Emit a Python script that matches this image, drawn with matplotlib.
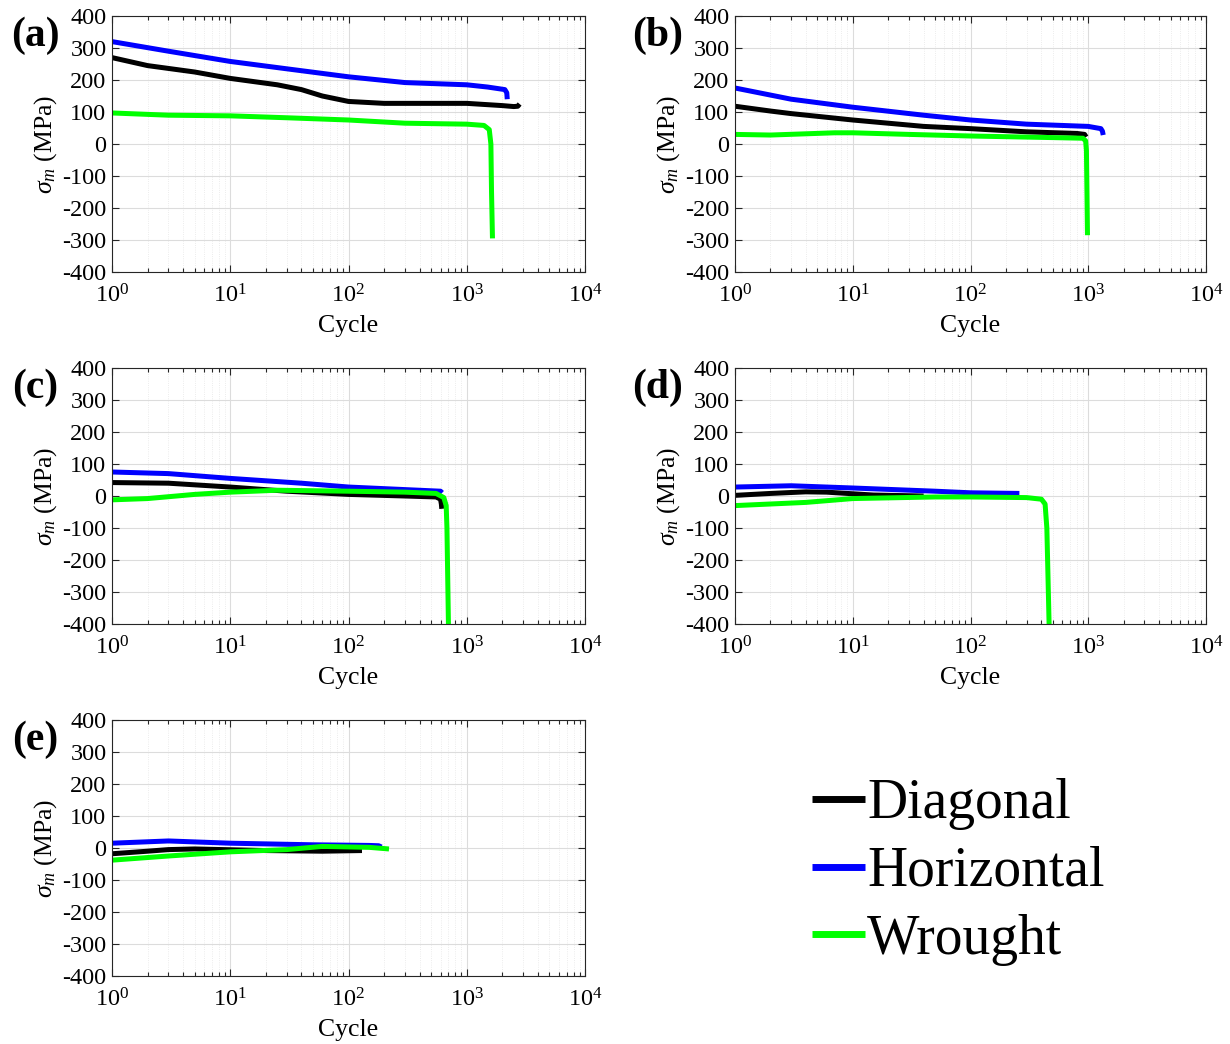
import numpy as np
import matplotlib
matplotlib.use('Agg')
import matplotlib.pyplot as plt
from matplotlib.ticker import LogLocator, NullFormatter

plt.rcParams['font.family'] = 'Liberation Serif'
plt.rcParams['mathtext.fontset'] = 'custom'
plt.rcParams['mathtext.rm'] = 'Liberation Serif'
plt.rcParams['mathtext.it'] = 'Liberation Serif:italic'
plt.rcParams['axes.unicode_minus'] = False

labels = ['Diagonal', 'Horizontal', 'Wrought']
colors = ['#000000', '#0000ff', '#00ff00']
panels = ['(a)', '(b)', '(c)', '(d)', '(e)']

# (a)
a_diag_x = [1, 2, 5, 10, 25, 40, 60, 100, 200, 1000, 2000, 2500, 2700, 2800]
a_diag_y = [270, 245, 225, 205, 185, 170, 150, 133, 127, 127, 120, 117, 118, 125]
a_hor_x = [1, 3, 10, 30, 100, 300, 1000, 1500, 2100, 2180, 2200]
a_hor_y = [320, 290, 258, 235, 210, 192, 185, 178, 170, 160, 140]
a_wro_x = [1, 3, 10, 30, 100, 300, 1000, 1400, 1550, 1600, 1620, 1650]
a_wro_y = [97, 90, 88, 82, 75, 65, 62, 58, 45, 0, -150, -295]

# (b)
b_diag_x = [1, 2, 3, 10, 40, 100, 300, 800, 930, 960]
b_diag_y = [118, 103, 95, 75, 55, 48, 38, 33, 30, 22]
b_hor_x = [1, 3, 10, 40, 100, 300, 1000, 1280, 1320, 1340]
b_hor_y = [175, 140, 115, 90, 75, 62, 55, 48, 40, 28]
b_wro_x = [1, 2, 7, 10, 30, 100, 500, 900, 950, 965, 975, 985]
b_wro_y = [30, 28, 35, 35, 30, 25, 20, 18, 10, -20, -150, -285]

# (c)
c_diag_x = [1, 3, 10, 30, 100, 300, 550, 600, 610, 615]
c_diag_y = [42, 40, 28, 15, 5, 0, -3, -10, -25, -40]
c_hor_x = [1, 3, 10, 40, 100, 300, 600, 620]
c_hor_y = [75, 70, 55, 40, 28, 20, 15, 10]
c_wro_x = [1, 2, 5, 10, 25, 100, 300, 550, 640, 670, 680, 690, 700]
c_wro_y = [-12, -8, 5, 12, 18, 15, 12, 8, -5, -30, -100, -250, -400]

# (d)
d_diag_x = [1, 2, 4, 6, 15, 40]
d_diag_y = [2, 8, 13, 12, 3, 0]
d_hor_x = [1, 3, 10, 50, 100, 260]
d_hor_y = [28, 32, 25, 15, 10, 8]
d_wro_x = [1, 4, 10, 50, 100, 300, 400, 430, 445, 455, 465]
d_wro_y = [-30, -20, -8, -3, -3, -5, -10, -25, -100, -250, -400]

# (e)
e_diag_x = [1, 2, 3, 5, 20, 60, 130]
e_diag_y = [-18, -10, -5, -3, -8, -10, -8]
e_hor_x = [1, 3, 10, 50, 150, 180, 190]
e_hor_y = [15, 22, 15, 10, 8, 7, 3]
e_wro_x = [1, 3, 10, 30, 60, 150, 220]
e_wro_y = [-38, -25, -12, -5, 5, 2, -3]

data = [
    [(a_diag_x, a_diag_y), (a_hor_x, a_hor_y), (a_wro_x, a_wro_y)],
    [(b_diag_x, b_diag_y), (b_hor_x, b_hor_y), (b_wro_x, b_wro_y)],
    [(c_diag_x, c_diag_y), (c_hor_x, c_hor_y), (c_wro_x, c_wro_y)],
    [(d_diag_x, d_diag_y), (d_hor_x, d_hor_y), (d_wro_x, d_wro_y)],
    [(e_diag_x, e_diag_y), (e_hor_x, e_hor_y), (e_wro_x, e_wro_y)],
]

W, H = 1230, 1044
# axes boxes in pixels: left, top, right, bottom
boxes = [(112, 16, 585, 272), (735, 16, 1206, 272),
         (112, 368, 585, 624), (735, 368, 1206, 624),
         (112, 720, 585, 976)]

fig = plt.figure(figsize=(W / 100, H / 100), dpi=100)

handles = []
for i, (l, t, r, b) in enumerate(boxes):
    ax = fig.add_axes([l / W, 1 - b / H, (r - l) / W, (b - t) / H])
    hs = []
    for (x, y), c, lab in zip(data[i], colors, labels):
        h, = ax.plot(x, y, color=c, lw=3.6, label=lab, solid_capstyle='butt')
        hs.append(h)
    if i == 0:
        handles = hs
    ax.set_xscale('log')
    ax.set_xlim(1, 1e4)
    ax.set_ylim(-400, 400)
    ax.set_yticks(np.arange(-400, 401, 100))
    ax.xaxis.set_minor_locator(LogLocator(base=10, subs=np.arange(2, 10), numticks=20))
    ax.xaxis.set_minor_formatter(NullFormatter())
    ax.tick_params(which='both', direction='in', top=True, right=True,
                   labelsize=17.5, width=0.8, color='#262626')
    ax.tick_params(which='major', length=5)
    ax.tick_params(which='minor', length=3)
    ax.tick_params(axis='x', pad=9)
    ax.tick_params(axis='y', pad=4)
    ax.grid(which='major', color='#dcdcdc', lw=0.8)
    ax.grid(which='minor', axis='x', color='#e6e6e6', lw=0.6, ls=':')
    ax.set_axisbelow(True)
    for s in ax.spines.values():
        s.set_color('#262626')
        s.set_linewidth(0.8)
    ax.set_xlabel('Cycle', fontsize=18.5, labelpad=5)
    ax.set_ylabel(r'$\sigma_m$ (MPa)', fontsize=18.5, labelpad=2)
    fig.text((l - 77) / W, 1 - (t + 20) / H, panels[i], fontsize=30,
             fontweight='bold', ha='center', va='center')

fig.legend(handles=handles, labels=labels, loc='center left',
           bbox_to_anchor=(784 / W, 1 - 872 / H), frameon=False,
           fontsize=40, handlelength=0.95, handletextpad=0.05,
           labelspacing=0.28, borderpad=0)
for lh in fig.legends[0].get_lines():
    lh.set_linewidth(5)

fig.savefig('out.png', dpi=100)
